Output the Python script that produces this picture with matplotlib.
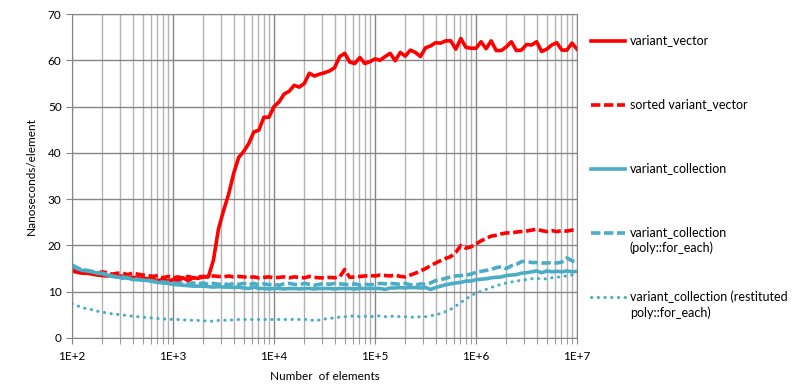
import numpy as np
import matplotlib
matplotlib.use('Agg')
import matplotlib.pyplot as plt
from matplotlib.lines import Line2D
from matplotlib.ticker import FixedLocator, FuncFormatter, NullFormatter

plt.rcParams['font.family'] = ['Lato', 'DejaVu Sans']

# sizes: 1E+2 .. 1E+7, 20 points per decade
n_elements = 10 ** np.linspace(2, 7, 101)

variant_vector = [
    14.5, 14.2, 14.0, 14.0, 13.8, 13.6, 13.5, 13.4, 13.6, 13.2,
    13.4, 13.0, 13.1, 13.0, 12.9, 12.8, 12.7, 12.4, 12.6, 12.3,
    12.6, 12.4, 13.0, 12.4, 13.0, 12.9, 13.2, 13.2, 16.8, 23.5,
    27.5, 31.0, 35.5, 39.0, 40.3, 42.0, 44.5, 44.9, 47.7, 47.7,
    50.0, 51.0, 52.7, 53.3, 54.6, 54.2, 55.0, 57.2, 56.6, 57.0,
    57.3, 57.7, 58.4, 60.8, 61.5, 59.6, 59.3, 60.6, 59.3, 59.7,
    60.3, 60.0, 60.8, 61.5, 59.9, 61.7, 60.9, 62.2, 61.7, 60.8,
    62.7, 63.1, 63.8, 63.7, 64.2, 64.2, 62.4, 64.7, 62.8, 62.6,
    62.6, 64.0, 62.5, 64.2, 62.1, 62.1, 62.9, 64.0, 62.1, 62.2,
    63.4, 63.3, 64.0, 61.9, 62.4, 63.3, 63.8, 62.2, 62.2, 63.7,
    62.4]

sorted_variant_vector = [
    14.7, 14.5, 14.3, 14.4, 14.2, 14.0, 14.3, 14.1, 13.8, 14.0,
    14.0, 13.7, 14.0, 13.8, 13.6, 13.5, 13.3, 13.5, 13.0, 13.3,
    13.0, 13.2, 12.9, 13.3, 13.0, 13.2, 13.3, 13.2, 13.4, 13.3,
    13.2, 13.4, 13.2, 13.3, 13.2, 13.1, 13.2, 13.0, 13.1, 13.2,
    13.0, 13.1, 13.2, 13.0, 13.2, 13.1, 13.0, 13.3, 13.1, 13.0,
    13.0, 13.1, 13.0, 13.2, 14.8, 13.1, 13.2, 13.3, 13.4, 13.5,
    13.4, 13.6, 13.5, 13.4, 13.6, 13.3, 13.2, 13.6, 14.0, 14.5,
    15.0, 15.6, 16.2, 16.7, 17.2, 17.6, 18.5, 20.0, 19.4, 19.7,
    20.3, 21.0, 21.5, 22.0, 22.2, 22.5, 22.7, 22.7, 22.9, 23.0,
    23.1, 23.3, 23.5, 23.2, 23.0, 23.2, 23.0, 23.2, 23.1, 23.3,
    23.3]

variant_collection = [
    15.5, 15.0, 14.6, 14.5, 14.3, 14.0, 13.9, 13.6, 13.3, 13.2,
    12.9, 13.1, 12.6, 12.6, 12.5, 12.4, 12.2, 12.0, 11.9, 11.8,
    11.6, 11.5, 11.4, 11.3, 11.2, 11.2, 11.2, 11.1, 11.0, 11.1,
    11.0, 11.0, 10.9, 11.0, 10.8, 10.7, 11.0, 10.7, 10.7, 10.6,
    10.7, 10.7, 10.6, 10.7, 10.7, 10.6, 10.7, 10.7, 10.6, 10.7,
    10.7, 10.7, 10.6, 10.7, 10.7, 10.7, 10.6, 10.7, 10.7, 10.7,
    10.7, 10.7, 10.5, 10.8, 10.8, 10.9, 10.8, 10.9, 10.9, 10.8,
    10.9, 10.5, 10.9, 11.2, 11.5, 11.7, 11.9, 12.0, 12.3, 12.3,
    12.6, 12.7, 12.8, 13.0, 13.1, 13.2, 13.5, 13.6, 13.7, 14.0,
    14.1, 14.3, 14.5, 14.1, 14.5, 14.3, 14.4, 14.3, 14.5, 14.3,
    14.4]

poly_for_each = [
    15.8, 15.2, 14.8, 14.6, 14.4, 14.1, 14.0, 13.7, 13.4, 13.1,
    13.3, 12.9, 12.8, 12.7, 12.5, 12.5, 12.3, 12.2, 12.1, 12.0,
    11.9, 11.8, 11.9, 11.7, 11.9, 11.7, 11.9, 11.6, 11.8, 11.6,
    11.8, 11.5, 11.8, 11.6, 11.8, 11.5, 11.8, 11.5, 11.7, 11.5,
    11.6, 11.4, 11.7, 11.8, 11.6, 11.5, 11.8, 11.6, 11.4, 11.6,
    11.8, 11.6, 11.8, 11.7, 11.6, 11.5, 11.7, 11.4, 11.6, 11.5,
    11.6, 11.8, 11.7, 11.8, 11.7, 11.6, 11.8, 11.5, 11.4, 11.7,
    11.6, 11.9, 12.4, 12.6, 12.9, 13.2, 13.4, 13.5, 13.6, 13.8,
    14.2, 14.4, 14.6, 14.8, 15.2, 15.4, 15.0, 15.6, 15.9, 16.5,
    16.6, 16.3, 16.3, 16.2, 16.2, 16.3, 16.2, 16.4, 17.3, 16.7,
    16.3]

restituted_for_each = [
    7.4, 7.0, 6.6, 6.3, 6.1, 5.8, 5.6, 5.4, 5.2, 5.1,
    5.0, 4.8, 4.7, 4.6, 4.5, 4.4, 4.3, 4.2, 4.1, 4.1,
    4.0, 4.0, 3.9, 3.9, 3.8, 3.8, 3.7, 3.7, 3.6, 3.8,
    3.8, 3.9, 3.9, 4.0, 4.0, 4.0, 4.0, 4.0, 4.0, 4.0,
    4.0, 4.0, 4.0, 4.0, 4.0, 4.0, 4.0, 4.0, 3.7, 3.9,
    4.1, 4.2, 4.4, 4.5, 4.6, 4.7, 4.8, 4.6, 4.7, 4.6,
    4.7, 4.8, 4.6, 4.7, 4.7, 4.6, 4.6, 4.5, 4.5, 4.6,
    4.6, 4.8, 5.0, 5.3, 5.7, 6.2, 6.9, 7.7, 8.4, 9.1,
    9.7, 10.1, 10.5, 10.9, 11.3, 11.6, 11.9, 12.1, 12.3, 12.5,
    12.6, 12.8, 12.9, 12.7, 12.8, 13.0, 13.1, 13.3, 13.4, 13.6,
    13.2]

labels = ['variant_vector', 'sorted variant_vector', 'variant_collection',
          'variant_collection\n(poly::for_each)',
          'variant_collection (restituted\npoly::for_each)']
red = '#FF0000'
blue = '#4BACC6'
W, H = 795, 390

fig = plt.figure(figsize=(7.95, 3.9), dpi=100)
ax = fig.add_axes([72 / W, 1 - 338 / H, 505 / W, 324 / H])

styles = [
    dict(color=red, lw=2.6),
    dict(color=red, lw=2.6, dashes=(2.6, 1.0)),
    dict(color=blue, lw=2.6),
    dict(color=blue, lw=2.6, dashes=(2.6, 1.0)),
    dict(color=blue, lw=2.2, dashes=(0.1, 2.1), dash_capstyle='round'),
]
series = [variant_vector, sorted_variant_vector, variant_collection,
          poly_for_each, restituted_for_each]
for ys, st in zip(series, styles):
    ax.plot(n_elements, ys, **st)

ax.set_xscale('log')
ax.set_xlim(1e2, 1e7)
ax.set_ylim(0, 70)
ax.set_yticks(range(0, 71, 10))
ax.xaxis.set_major_locator(FixedLocator([1e2, 1e3, 1e4, 1e5, 1e6, 1e7]))
ax.xaxis.set_major_formatter(FuncFormatter(lambda v, p: '1E+%d' % round(np.log10(v))))
ax.xaxis.set_minor_formatter(NullFormatter())

ax.grid(which='major', color='#868686', lw=1.0)
ax.grid(which='minor', axis='x', color='#B3B3B3', lw=1.0)
ax.set_axisbelow(True)
for s in ax.spines.values():
    s.set_color('#868686')
ax.tick_params(which='both', direction='out', color='#868686', length=4,
               labelsize=8.5, labelcolor='black')
ax.tick_params(axis='x', which='major', pad=5)

ax.set_ylabel('Nanoseconds/element', fontsize=8.5, labelpad=8)
ax.set_xlabel('Number  of elements', fontsize=8.5, labelpad=7)

# legend drawn by hand: handle on the first text line, 64 px apart
for k, (lab, st) in enumerate(zip(labels, styles)):
    yk = 1 - (41 + 64 * k) / H
    fig.add_artist(Line2D([591 / W, 625 / W], [yk, yk],
                          transform=fig.transFigure, **st))
    fig.text(630 / W, yk + 6.5 / H, lab, fontsize=9, va='top', ha='left',
             linespacing=1.3)

fig.savefig('out.png', dpi=100)
